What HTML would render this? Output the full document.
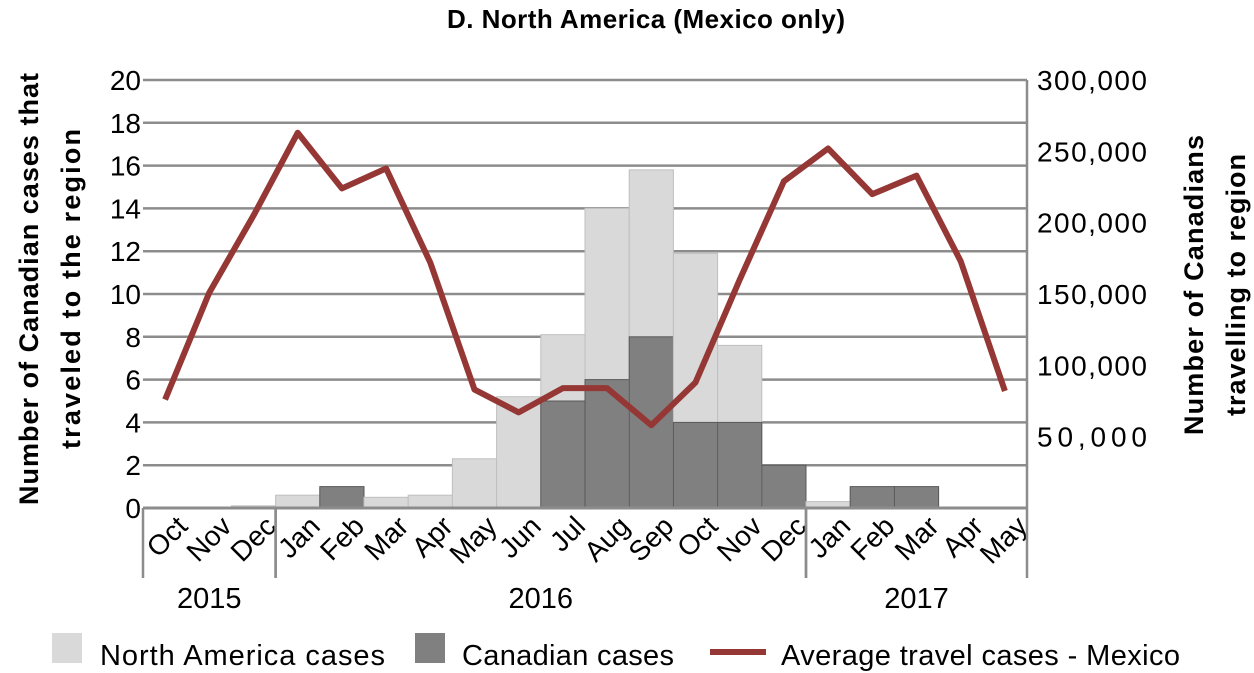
<!DOCTYPE html>
<html><head><meta charset="utf-8"><style>
body{margin:0;background:#fff;}
svg{display:block;font-family:"Liberation Sans","DejaVu Sans",sans-serif;}
</style></head><body>
<svg id="chart" width="1254" height="673" viewBox="0 0 1254 673">
<text x="646" y="28" text-anchor="middle" font-size="26" font-weight="bold" textLength="398">D. North America (Mexico only)</text>
<g id="grid"></g><g id="bars"></g><g id="line"></g><g id="axes"></g>
<text transform="translate(38,289) rotate(-90)" text-anchor="middle" font-size="27" font-weight="bold" textLength="432">Number of Canadian cases that</text>
<text transform="translate(80,289) rotate(-90)" text-anchor="middle" font-size="27" font-weight="bold" textLength="320">traveled to the region</text>
<text transform="translate(1203,285) rotate(-90)" text-anchor="middle" font-size="27" font-weight="bold" textLength="300">Number of Canadians</text>
<text transform="translate(1245,285) rotate(-90)" text-anchor="middle" font-size="27" font-weight="bold" textLength="262">travelling to region</text>
<g>
<rect x="52" y="633" width="30" height="30" fill="#d9d9d9"/>
<text x="100" y="665" font-size="29" textLength="285">North America cases</text>
<rect x="415" y="633" width="30" height="30" fill="#808080"/>
<text x="462" y="665" font-size="29" textLength="212">Canadian cases</text>
<line x1="710" y1="652" x2="766" y2="652" stroke="#953735" stroke-width="6"/>
<text x="781" y="665" font-size="29" textLength="399">Average travel cases - Mexico</text>
</g>
</svg>
<script>
const months=["Oct","Nov","Dec","Jan","Feb","Mar","Apr","May","Jun","Jul","Aug","Sep","Oct","Nov","Dec","Jan","Feb","Mar","Apr","May"];
const naCases=[0,0,0.1,0.6,0.9,0.5,0.6,2.3,5.2,8.1,14,15.8,11.9,7.6,2,0.3,0.9,0.9,0,0];
const caCases=[0,0,0,0,1,0,0,0,0,5,6,8,4,4,2,0,1,1,0,0];
const travel=[76000,151000,205000,263000,224000,238000,172000,83000,67000,84000,84000,58000,88000,160000,229000,252000,220000,233000,173000,82000];
const leftTicks=[0,2,4,6,8,10,12,14,16,18,20];
const rightTicks=[50000,100000,150000,200000,250000,300000];
const years=[{label:"2015",start:0,end:3},{label:"2016",start:3,end:15},{label:"2017",start:15,end:20}];
const X0=143,X1=1027,Y0=508,Y1=80;
const bw=(X1-X0)/months.length;
const yL=v=>Y0-(v/20)*(Y0-Y1);
const yR=v=>Y0-(v/300000)*(Y0-Y1);
const xC=i=>X0+bw*(i+0.5);
const NS="http://www.w3.org/2000/svg";
function mk(t,a,p){const e=document.createElementNS(NS,t);for(const k in a)e.setAttribute(k,a[k]);p.appendChild(e);return e;}
const grid=document.getElementById('grid'),bars=document.getElementById('bars'),line=document.getElementById('line'),axes=document.getElementById('axes');
leftTicks.forEach(v=>{
 if(v>0){const l=mk('line',{x1:X0,x2:X1,y1:yL(v),y2:yL(v),stroke:'#8c8c8c','stroke-width':2.5},grid);
 
 }
 const t=mk('text',{x:X0-2,y:yL(v)+10,'text-anchor':'end','font-size':28},axes);t.textContent=v;
 
 
});
rightTicks.forEach(v=>{
 const t=mk('text',{x:X1+10,y:yR(v)+10,'font-size':28,textLength:110},axes);t.textContent=v.toLocaleString('en-US');
 
 
});
months.forEach((m,i)=>{
 const x=X0+bw*i;
 if(naCases[i]>0){const r=mk('rect',{x:x,y:yL(naCases[i]),width:bw,height:Y0-yL(naCases[i]),fill:'#d9d9d9',stroke:'#bfbfbf','stroke-width':1},bars);
 
 }
 if(caCases[i]>0){const r=mk('rect',{x:x,y:yL(caCases[i]),width:bw,height:Y0-yL(caCases[i]),fill:'#808080',stroke:'#595959','stroke-width':1},bars);
 
 }
 const t=mk('text',{transform:`translate(${xC(i)+24},${Y0+20}) rotate(-45)`,'text-anchor':'end','font-size':28},axes);t.textContent=m;
 
 
});
const pl=mk('polyline',{points:travel.map((v,i)=>xC(i)+','+yR(v)).join(' '),fill:'none',stroke:'#953735','stroke-width':6,'stroke-linejoin':'round'},line);


const ax=mk('line',{x1:X0,x2:X1,y1:Y0,y2:Y0,stroke:'#8c8c8c','stroke-width':3},axes);


const ra=mk('line',{x1:X1,x2:X1,y1:Y1,y2:Y0,stroke:'#8c8c8c','stroke-width':2.5},axes);


years.forEach(y=>{
 [y.start,y.end].forEach(b=>{const l=mk('line',{x1:X0+bw*b,x2:X0+bw*b,y1:Y0,y2:578,stroke:'#8c8c8c','stroke-width':2.5},axes);
 
 });
 const t=mk('text',{x:X0+bw*(y.start+y.end)/2,y:608,'text-anchor':'middle','font-size':29},axes);t.textContent=y.label;
 
 
});
</script>
</body></html>
